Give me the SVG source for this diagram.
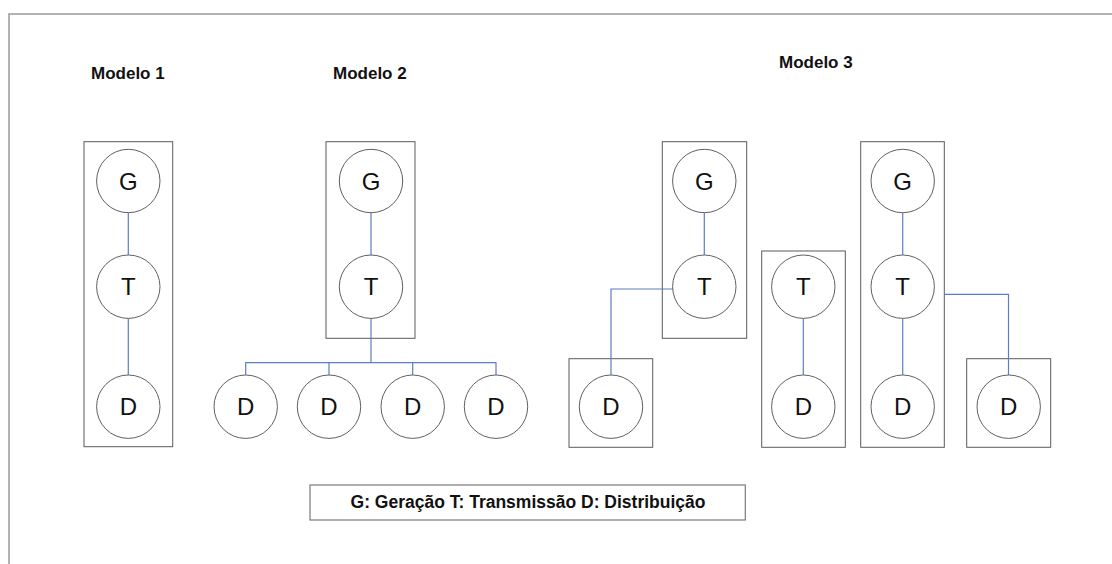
<svg xmlns="http://www.w3.org/2000/svg" width="1112" height="564" viewBox="0 0 1112 564">
  <style>
    .frame { fill: none; stroke: #9a9a9a; stroke-width: 1.5; }
    .box { fill: none; stroke: #5a5a5a; stroke-width: 1; }
    .node circle { fill: #ffffff; stroke: #606060; stroke-width: 1; }
    .node text { font-family: "Liberation Sans", Arial, sans-serif; font-size: 24px; fill: #111; text-anchor: middle; }
    .title { font-family: "Liberation Sans", Arial, sans-serif; font-size: 17px; font-weight: bold; fill: #111; }
    .legend text { font-family: "Liberation Sans", Arial, sans-serif; font-size: 17.5px; font-weight: bold; fill: #111; text-anchor: middle; }
    .links path { fill: none; stroke: #5b7fc2; stroke-width: 1.2; }
  </style>
  <rect width="1112" height="564" fill="#ffffff"/>
  <!-- page frame (open to the right and bottom) -->
  <path class="frame" d="M9,570 V14 H1120"/>

  <!-- titles -->
  <text class="title" x="91" y="79">Modelo 1</text>
  <text class="title" x="333" y="79">Modelo 2</text>
  <text class="title" x="779" y="68">Modelo 3</text>

  <!-- grouping boxes -->
  <g id="boxes">
    <rect class="box" x="84" y="141.7" width="88.7" height="305"/>
    <rect class="box" x="326" y="141.7" width="89" height="196.6"/>
    <rect class="box" x="662.3" y="141.7" width="84.4" height="196.6"/>
    <rect class="box" x="569" y="358.7" width="83.7" height="88.6"/>
    <rect class="box" x="761.7" y="251" width="83.6" height="196.3"/>
    <rect class="box" x="860.7" y="141.7" width="83.6" height="305.6"/>
    <rect class="box" x="966.7" y="358.7" width="84" height="88.6"/>
  </g>

  <!-- connectors -->
  <g class="links" id="connectors">
    <!-- Modelo 1 -->
    <path d="M128.3,212.7 V255"/>
    <path d="M128.3,318.4 V375"/>
    <!-- Modelo 2 -->
    <path d="M371,212.7 V255"/>
    <path d="M371,318.4 V362.7"/>
    <path d="M245.7,375 V362.7 H496 V375"/>
    <path d="M329,362.7 V375"/>
    <path d="M412.7,362.7 V375"/>
    <!-- Modelo 3 -->
    <path d="M704.3,212.7 V255"/>
    <path d="M675,289 H611 V375"/>
    <path d="M803.3,318.4 V375"/>
    <path d="M902.7,212.7 V255"/>
    <path d="M902.7,318.4 V375"/>
    <path d="M944.3,294.3 H1008.5 V375"/>
  </g>

  <!-- Modelo 1 nodes -->
  <g id="m1-g" class="node"><circle cx="128.3" cy="181" r="31.7"/><text x="128.3" y="189.6">G</text></g>
  <g id="m1-t" class="node"><circle cx="128.3" cy="286.7" r="31.7"/><text x="128.3" y="295.3">T</text></g>
  <g id="m1-d" class="node"><circle cx="128.3" cy="406.7" r="31.7"/><text x="128.3" y="415.3">D</text></g>

  <!-- Modelo 2 nodes -->
  <g id="m2-g" class="node"><circle cx="371" cy="181" r="31.7"/><text x="371" y="189.6">G</text></g>
  <g id="m2-t" class="node"><circle cx="371" cy="286.7" r="31.7"/><text x="371" y="295.3">T</text></g>
  <g id="m2-d1" class="node"><circle cx="245.7" cy="406.7" r="31.7"/><text x="245.7" y="415.3">D</text></g>
  <g id="m2-d2" class="node"><circle cx="329" cy="406.7" r="31.7"/><text x="329" y="415.3">D</text></g>
  <g id="m2-d3" class="node"><circle cx="412.7" cy="406.7" r="31.7"/><text x="412.7" y="415.3">D</text></g>
  <g id="m2-d4" class="node"><circle cx="496" cy="406.7" r="31.7"/><text x="496" y="415.3">D</text></g>

  <!-- Modelo 3 nodes -->
  <g id="m3-g1" class="node"><circle cx="704.3" cy="181" r="31.7"/><text x="704.3" y="189.6">G</text></g>
  <g id="m3-t1" class="node"><circle cx="704.3" cy="286.7" r="31.7"/><text x="704.3" y="295.3">T</text></g>
  <g id="m3-d1" class="node"><circle cx="611" cy="406.7" r="31.7"/><text x="611" y="415.3">D</text></g>
  <g id="m3-t2" class="node"><circle cx="803.3" cy="286.7" r="31.7"/><text x="803.3" y="295.3">T</text></g>
  <g id="m3-d2" class="node"><circle cx="803.3" cy="406.7" r="31.7"/><text x="803.3" y="415.3">D</text></g>
  <g id="m3-g3" class="node"><circle cx="902.7" cy="181" r="31.7"/><text x="902.7" y="189.6">G</text></g>
  <g id="m3-t3" class="node"><circle cx="902.7" cy="286.7" r="31.7"/><text x="902.7" y="295.3">T</text></g>
  <g id="m3-d3" class="node"><circle cx="902.7" cy="406.7" r="31.7"/><text x="902.7" y="415.3">D</text></g>
  <g id="m3-d4" class="node"><circle cx="1008.7" cy="406.7" r="31.7"/><text x="1008.7" y="415.3">D</text></g>

  <!-- legend -->
  <g id="legend" class="legend">
    <rect x="310" y="485" width="435.3" height="35" fill="#ffffff" stroke="#7a7a7a" stroke-width="1.2"/>
    <text x="528" y="508">G: Geração T: Transmissão D: Distribuição</text>
  </g>
</svg>
